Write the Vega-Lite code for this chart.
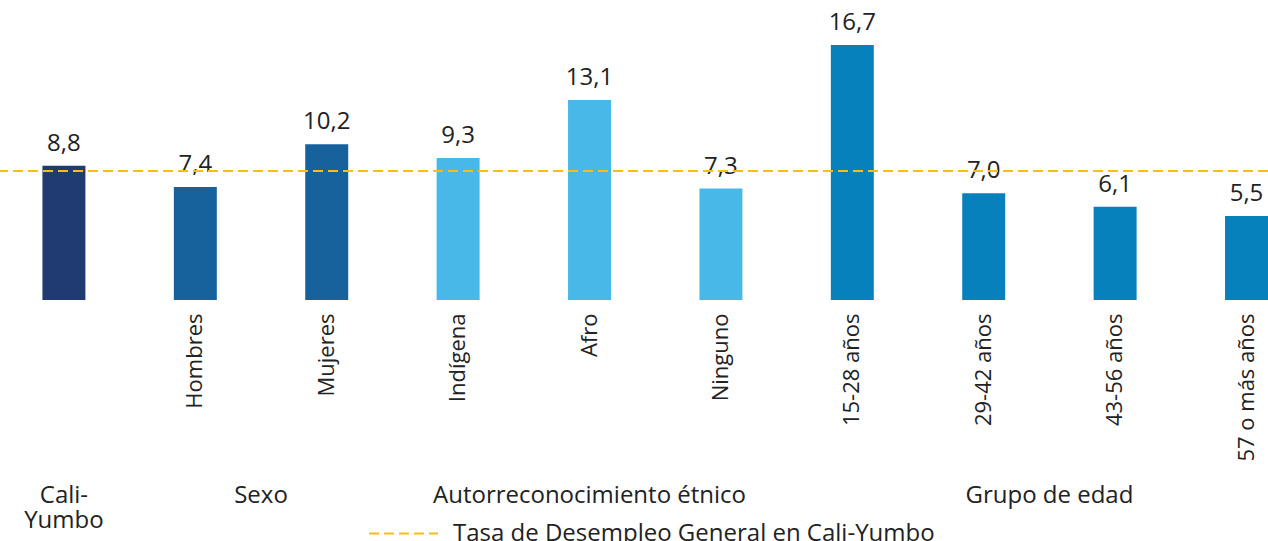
{
  "$schema": "https://vega.github.io/schema/vega-lite/v6.json",
  "width": 1268,
  "height": 300,
  "autosize": {"type": "none"},
  "padding": {"left": 0, "top": 0, "right": 0, "bottom": 241},
  "background": "white",
  "config": {
    "view": {"stroke": null},
    "font": "Open Sans",
    "locale": {"number": {"decimal": ",", "thousands": ".", "grouping": [3], "currency": ["$", ""]}}
  },
  "datasets": {
    "barras": [
      {"categoria": "Cali-Yumbo", "grupo": "Total", "valor": 8.8},
      {"categoria": "Hombres", "grupo": "Sexo", "valor": 7.4},
      {"categoria": "Mujeres", "grupo": "Sexo", "valor": 10.2},
      {"categoria": "Indígena", "grupo": "Autorreconocimiento étnico", "valor": 9.3},
      {"categoria": "Afro", "grupo": "Autorreconocimiento étnico", "valor": 13.1},
      {"categoria": "Ninguno", "grupo": "Autorreconocimiento étnico", "valor": 7.3},
      {"categoria": "15-28 años", "grupo": "Grupo de edad", "valor": 16.7},
      {"categoria": "29-42 años", "grupo": "Grupo de edad", "valor": 7.0},
      {"categoria": "43-56 años", "grupo": "Grupo de edad", "valor": 6.1},
      {"categoria": "57 o más años", "grupo": "Grupo de edad", "valor": 5.5}
    ],
    "tasa": [
      {"serie": "Tasa de Desempleo General en Cali-Yumbo", "valor": 8.45}
    ]
  },
  "layer": [
    {
      "data": {"name": "barras"},
      "mark": {"type": "bar"},
      "encoding": {
        "x": {
          "field": "categoria", "type": "nominal", "sort": null,
          "scale": {"type": "band", "paddingInner": 0.673, "paddingOuter": 0.1615, "align": 1},
          "axis": {
            "title": null, "orient": "bottom", "labelAngle": -90, "domain": false, "ticks": false,
            "labelPadding": 13, "labelFontSize": 22, "labelFont": "Open Sans", "labelColor": "#222222",
            "labelExpr": "datum.value == 'Cali-Yumbo' ? '' : datum.value", "labelLimit": 400
          }
        },
        "y": {"field": "valor", "type": "quantitative", "scale": {"domain": [0, 19.65], "nice": false, "zero": true}, "axis": null},
        "color": {
          "field": "grupo", "type": "nominal",
          "scale": {"domain": ["Total", "Sexo", "Autorreconocimiento étnico", "Grupo de edad"], "range": ["#1F3B70", "#17619C", "#48B8E8", "#0781BC"]},
          "legend": null
        }
      }
    },
    {
      "data": {"name": "barras"},
      "mark": {"type": "text", "baseline": "alphabetic", "align": "center", "dy": -15, "fontSize": 24, "font": "Open Sans", "color": "#222222"},
      "encoding": {
        "x": {
          "field": "categoria", "type": "nominal", "sort": null,
          "axis": {
            "title": null, "orient": "bottom", "labelAngle": 0, "domain": false, "ticks": false,
            "labelAlign": "center", "labelBaseline": "alphabetic", "labelPadding": 202,
            "labelFontSize": 24, "labelFont": "Open Sans", "labelColor": "#222222", "labelLineHeight": 25,
            "labelOverlap": false, "labelBound": false, "labelLimit": 800,
            "labelOffset": {"condition": {"test": "datum.value == 'Hombres' || datum.value == '29-42 años'", "value": 65.7}, "value": 0},
            "labelExpr": "datum.value == 'Cali-Yumbo' ? ['Cali-', 'Yumbo'] : datum.value == 'Hombres' ? 'Sexo' : datum.value == 'Afro' ? 'Autorreconocimiento étnico' : datum.value == '29-42 años' ? 'Grupo de edad' : ''"
          }
        },
        "y": {"field": "valor", "type": "quantitative"},
        "text": {"field": "valor", "type": "quantitative", "format": ".1f"}
      }
    },
    {
      "data": {"name": "tasa"},
      "mark": {"type": "rule", "color": "#F6BE1B", "strokeWidth": 2},
      "encoding": {
        "y": {"field": "valor", "type": "quantitative"},
        "strokeDash": {
          "field": "serie", "type": "nominal",
          "scale": {"range": [[10, 5]]},
          "legend": {
            "title": null, "orient": "none", "legendX": 368, "legendY": 498, "padding": 0,
            "symbolType": "stroke", "symbolSize": 4761, "symbolStrokeWidth": 2, "symbolStrokeColor": "#F6BE1B",
            "symbolDash": [8, 7], "labelFontSize": 24, "labelFont": "Open Sans", "labelColor": "#222222",
            "labelOffset": 14, "labelLimit": 800
          }
        }
      }
    }
  ],
  "resolve": {"axis": {"x": "independent"}}
}
